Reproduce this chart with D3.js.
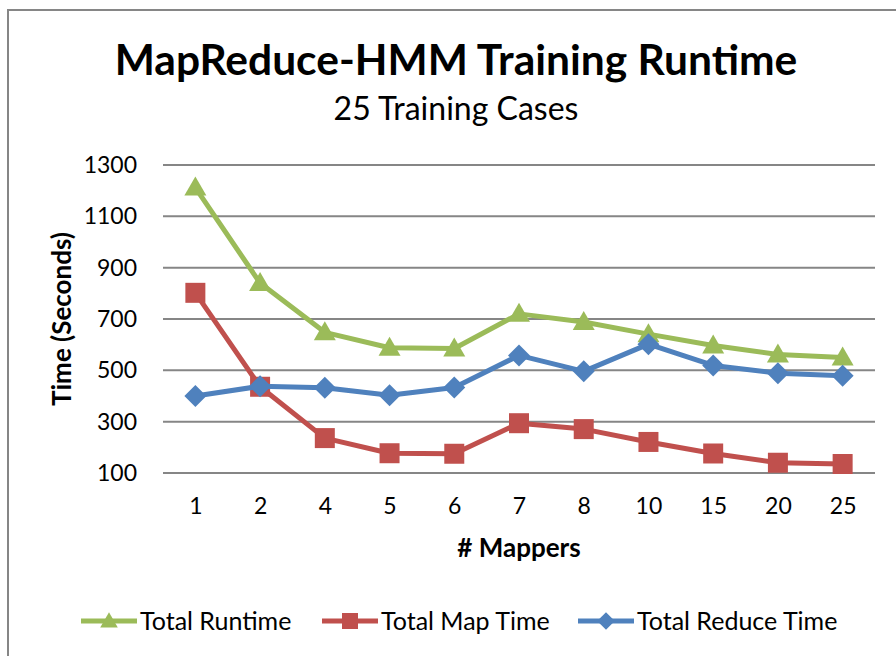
<!DOCTYPE html>
<html>
<head>
<meta charset="utf-8">
<script src="https://cdn.jsdelivr.net/npm/d3@7"></script>
<style>
  body { margin: 0; background: #fff; }
  svg text { font-family: Lato, "Open Sans", sans-serif; fill: #000; }
</style>
</head>
<body>
<div id="chart"></div>
<script>
// chart data
var mappers = ["1", "2", "4", "5", "6", "7", "8", "10", "15", "20", "25"];
var totalRuntime = [1212, 840, 648, 588, 585, 720, 688, 641, 597, 562, 550];
var totalMapTime = [802, 436, 236, 177, 175, 294, 271, 221, 176, 140, 135];
var totalReduceTime = [400, 438, 432, 403, 433, 558, 496, 602, 519, 489, 479];
var yTicks = [100, 300, 500, 700, 900, 1100, 1300];

var series = [
  {name: "Total Runtime", values: totalRuntime, color: "#9BBB59", marker: "triangle"},
  {name: "Total Map Time", values: totalMapTime, color: "#C0504D", marker: "square"},
  {name: "Total Reduce Time", values: totalReduceTime, color: "#4F81BD", marker: "diamond"}
];

var W = 896, H = 656;
var margin = {top: 165, right: 21, bottom: 183, left: 163},
  width = W - margin.left - margin.right,
  height = H - margin.top - margin.bottom;

var svg = d3.select("#chart")
  .append("svg")
  .attr("width", W)
  .attr("height", H);

// outer frame (right/bottom run off the picture)
svg.append("rect")
  .attr("x", 8).attr("y", 10)
  .attr("width", W + 20).attr("height", H + 20)
  .attr("fill", "none")
  .attr("stroke", "#868686")
  .attr("stroke-width", 2);

svg.append("text")
  .attr("x", 456).attr("y", 75)
  .attr("text-anchor", "middle")
  .style("font-weight", "bold")
  .style("font-size", "42.5px")
  .text("MapReduce-HMM Training Runtime");

svg.append("text")
  .attr("x", 456).attr("y", 120)
  .attr("text-anchor", "middle")
  .style("font-size", "32px")
  .text("25 Training Cases");

var g = svg.append("g")
  .attr("transform", "translate(" + margin.left + "," + margin.top + ")");

var x = d3.scalePoint()
  .domain(mappers)
  .range([0, width])
  .padding(0.5);

var y = d3.scaleLinear()
  .domain([100, 1300])
  .range([height, 0]);

// gridlines
g.append("g")
  .selectAll("line")
  .data(yTicks)
  .enter()
  .append("line")
    .attr("x1", 0).attr("x2", width)
    .attr("y1", function(d) { return y(d); })
    .attr("y2", function(d) { return y(d); })
    .attr("stroke", "#868686")
    .attr("stroke-width", 2);

var yAxis = g.append("g")
  .call(d3.axisLeft(y).tickValues(yTicks).tickFormat(d3.format("d")).tickSize(0).tickPadding(26));
yAxis.select(".domain").remove();
yAxis.selectAll("text").style("font-size", "23px");

var xAxis = g.append("g")
  .attr("transform", "translate(0," + height + ")")
  .call(d3.axisBottom(x).tickSize(0).tickPadding(25));
xAxis.select(".domain").remove();
xAxis.selectAll("text").style("font-size", "23px");

svg.append("text")
  .attr("transform", "translate(71," + (margin.top + height / 2) + ") rotate(-90)")
  .attr("text-anchor", "middle")
  .style("font-weight", "bold")
  .style("font-size", "26px")
  .text("Time (Seconds)");

svg.append("text")
  .attr("x", margin.left + width / 2).attr("y", 557)
  .attr("text-anchor", "middle")
  .style("font-weight", "bold")
  .style("font-size", "26px")
  .text("# Mappers");

function markerPath(type) {
  if (type === "triangle") return "M0,-11L11,8L-11,8Z";
  if (type === "square") return "M-10,-10H10V10H-10Z";
  return "M0,-11L11,0L0,11L-11,0Z";
}

var line = d3.line()
  .x(function(d, i) { return x(mappers[i]); })
  .y(function(d) { return y(d); });

series.forEach(function(s) {
  var sg = g.append("g");
  sg.append("path")
    .datum(s.values)
    .attr("d", line)
    .attr("fill", "none")
    .attr("stroke", s.color)
    .attr("stroke-width", 5)
    .attr("stroke-linejoin", "round");
  sg.selectAll("path.pt")
    .data(s.values)
    .enter()
    .append("path")
      .attr("class", "pt")
      .attr("d", markerPath(s.marker))
      .attr("transform", function(d, i) { return "translate(" + x(mappers[i]) + "," + y(d) + ")"; })
      .attr("fill", s.color);
});

// legend
var legendX = [81, 322, 578];
var legend = svg.append("g");
series.forEach(function(s, i) {
  var lg = legend.append("g").attr("transform", "translate(" + legendX[i] + ",621)");
  lg.append("line")
    .attr("x1", 0).attr("x2", 56)
    .attr("stroke", s.color)
    .attr("stroke-width", 5);
  lg.append("path")
    .attr("d", markerPath(s.marker))
    .attr("transform", "translate(28,0) scale(0.8)")
    .attr("fill", s.color);
  lg.append("text")
    .attr("x", 59).attr("dy", "0.35em")
    .style("font-size", "25px")
    .text(s.name);
});
</script>
</body>
</html>
